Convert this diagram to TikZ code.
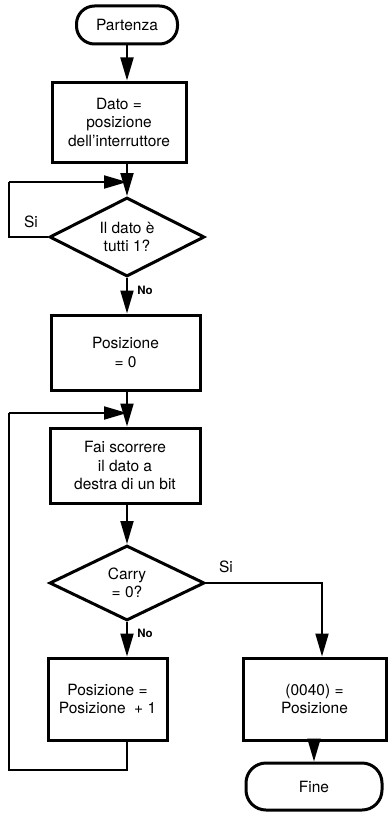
\documentclass[tikz,border=0pt]{standalone}
\usepackage{fontspec}
\setmainfont{TeX Gyre Heros}
\usetikzlibrary{shapes.geometric,arrows.meta}
\begin{document}
\begin{tikzpicture}[x=1pt,y=-1pt,
  font=\fontsize{15.5}{18.5}\selectfont,
  box/.style={draw,line width=3pt,inner sep=0pt,align=center},
  term/.style={draw,line width=3pt,rounded corners=18pt,inner sep=0pt},
  dec/.style={draw,diamond,line width=3pt,inner sep=0pt,aspect=2,align=center},
  conn/.style={line width=2pt},
  arr/.style={line width=2pt,-{Triangle[length=23pt,width=13pt]}},
  lab/.style={inner sep=0pt},
  nolab/.style={inner sep=0pt,font=\fontsize{11.5}{13}\selectfont\bfseries}]
\useasboundingbox (0,0) rectangle (389,816);
\fill[white] (0,0) rectangle (389,816);

\node[term,minimum width=101pt,minimum height=38pt] (start) at (127,25) {Partenza};
\node[box,minimum width=134pt,minimum height=80pt] (b1) at (119,122) {Dato =\\posizione\\dell'interruttore};
\node[dec,minimum width=155pt,minimum height=79pt] (d1) at (127,237) {Il dato è\\tutti 1?};
\node[box,minimum width=149pt,minimum height=75pt] (b2) at (125.5,352.5) {Posizione\\= 0};
\node[box,minimum width=150pt,minimum height=75pt] (b3) at (125,465.5) {Fai scorrere\\il dato a\\destra di un bit};
\node[dec,minimum width=155pt,minimum height=75pt] (d2) at (127,583) {Carry\\= 0?};
\node[box,minimum width=119pt,minimum height=82pt] (b4) at (107.5,699) {Posizione =\\Posizione\ \ + 1};
\node[box,minimum width=143pt,minimum height=82pt] (b5) at (314.5,699) {(0040) =\\Posizione};
\node[term,minimum width=136pt,minimum height=47pt,rounded corners=20pt] (fine) at (314,786.5) {Fine};

\coordinate (j1) at (127,182);
\coordinate (j2) at (127,413);
\coordinate (l1) at (9,182);
\coordinate (l2) at (9,413);
\coordinate (l3) at (9,770);
\coordinate (r1) at (322,583);

% main flow
\draw[arr] (start.south) -- (start.south |- b1.north);
\draw[conn] (b1.south -| d1.north) -- (j1);
\draw[arr] (j1) -- (d1.north);
\draw[arr] (d1.south) -- (d1.south |- b2.north);
\draw[conn] (b2.south -| d1.north) -- (j2);
\draw[arr] (j2) -- (j2 |- b3.north);
\draw[arr] (b3.south -| d2.north) -- (d2.north);
\draw[arr] (d2.south) -- (d2.south |- b4.north);
\draw[arr] (d2.east) -- (r1) -- (r1 |- b5.north);
\draw[arr] (b5.south -| fine.north) -- (fine.north);

% loops
\draw[conn] (d1.west) -- (d1.west -| l1) -- (l1);
\draw[arr] (l1) -- (j1);
\draw[conn] (b4.south -| d2.north) -- (l3 -| d2.north) -- (l3) -- (l2);
\draw[arr] (l2) -- (j2);

% labels
\node[lab] (si1) at (31,222) {Si};
\node[nolab] (no1) at (145,290) {No};
\node[lab] (si2) at (226,567) {Si};
\node[nolab] (no2) at (145,633) {No};
\end{tikzpicture}
\end{document}
